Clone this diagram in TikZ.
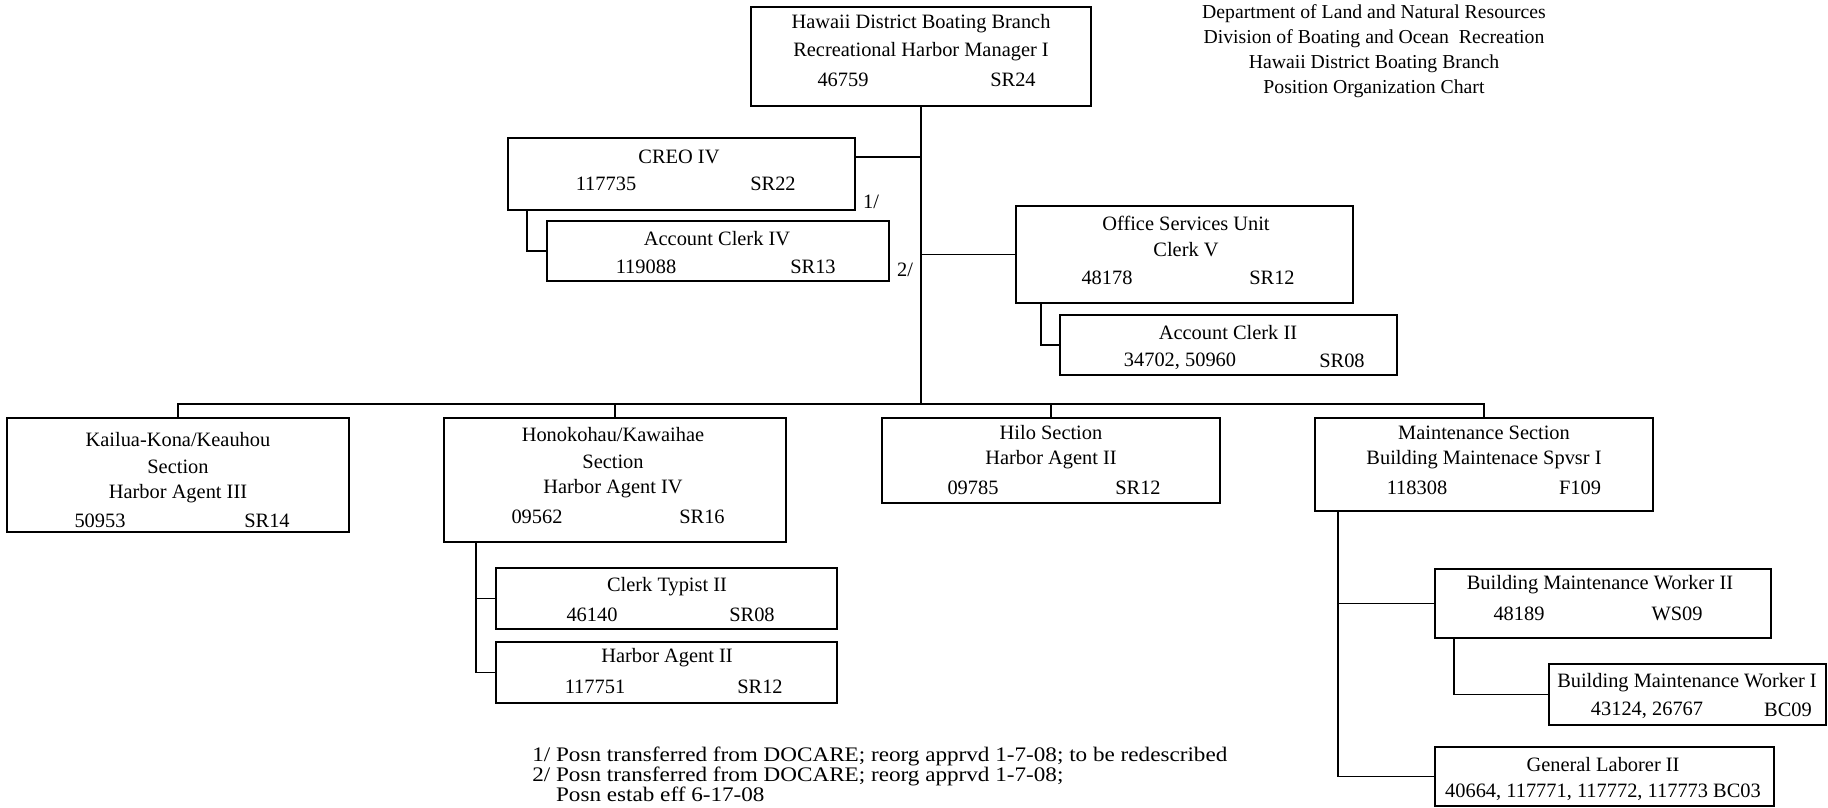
\documentclass[tikz,border=0pt]{standalone}
\usepackage{fontspec}
\setmainfont{Liberation Serif}
\newfontfamily\wideserif[FakeStretch=1.12]{Liberation Serif}
\usetikzlibrary{fit}
\begin{document}
\begin{tikzpicture}[x=0.75pt,y=-0.75pt,
  box/.style={draw, line width=1.4pt, inner sep=0pt},
  lbl/.style={inner sep=0pt, font=\fontsize{15.3}{18}\selectfont},
  conn/.style={line width=1.1pt}]
\useasboundingbox (0,0) rectangle (1828,807);

% boxes
\node[box, fit={(751,7)(1091,106)}] (top) {};
\node[box, fit={(508,138)(855,210)}] (creo) {};
\node[box, fit={(547,221)(889,281)}] (aciv) {};
\node[box, fit={(1016,206)(1353,303)}] (osu) {};
\node[box, fit={(1060,315)(1397,375)}] (acii) {};
\node[box, fit={(7,418)(349,532)}] (kailua) {};
\node[box, fit={(444,418)(786,542)}] (honok) {};
\node[box, fit={(882,418)(1220,503)}] (hilo) {};
\node[box, fit={(1315,418)(1653,511)}] (maint) {};
\node[box, fit={(496,568)(837,629)}] (ct2) {};
\node[box, fit={(496,642)(837,703)}] (ha2) {};
\node[box, fit={(1435,569)(1771,638)}] (bmw2) {};
\node[box, fit={(1549,664)(1826,725)}] (bmw1) {};
\node[box, fit={(1435,747)(1774,806)}] (gl2) {};

% connectors
\coordinate (bus) at (0,404);
\coordinate (yc) at (0,157);
\draw[conn] (top.south) -- (top.south |- bus);
\draw[conn] (kailua.north) -- (kailua.north |- bus) -- (maint.north |- bus) -- (maint.north);
\draw[conn] (honok.north) -- (honok.north |- bus);
\draw[conn] (hilo.north) -- (hilo.north |- bus);
\draw[conn] (creo.east |- yc) -- (top.south |- yc);
\draw[conn] ([xshift=15pt]creo.south west) |- (aciv.west);
\draw[conn] (osu.west) -- (osu.west -| top.south);
\draw[conn] ([xshift=19.5pt]osu.south west) |- (acii.west);
\coordinate (hv) at ([xshift=24.75pt]honok.south west);
\draw[conn] (hv) |- (ha2.west);
\draw[conn] (ct2.west) -- (ct2.west -| hv);
\coordinate (mv) at ([xshift=18pt]maint.south west);
\draw[conn] (mv) |- (gl2.west);
\draw[conn] (bmw2.west) -- (bmw2.west -| mv);
\draw[conn] ([xshift=15pt]bmw2.south west) |- (bmw1.west);

% texts
\node[lbl] (t1) at (921,24) {Hawaii District Boating Branch};
\node[lbl] (t2) at (921,52) {Recreational Harbor Manager I};
\node[lbl] (t3) at (843,80) {46759};
\node[lbl] (t4) at (1013,80) {SR24};

\node[lbl, align=center, font=\fontsize{14.8}{18.75}\selectfont] (title) at (1374,51)
  {Department of Land and Natural Resources\\Division of Boating and Ocean\ \ Recreation\\Hawaii District Boating Branch\\Position Organization Chart};

\node[lbl] (c1) at (679,157) {CREO IV};
\node[lbl] (c2) at (606,184) {117735};
\node[lbl] (c3) at (773,184) {SR22};
\node[lbl] (n1) at (871,202) {1/};

\node[lbl] (a1) at (717,239) {Account Clerk IV};
\node[lbl] (a2) at (646,267) {119088};
\node[lbl] (a3) at (813,267) {SR13};
\node[lbl] (n2) at (905,270) {2/};

\node[lbl] (o1) at (1186,223) {Office Services Unit};
\node[lbl] (o2) at (1186,250) {Clerk V};
\node[lbl] (o3) at (1107,278) {48178};
\node[lbl] (o4) at (1272,278) {SR12};

\node[lbl] (b1) at (1228,333) {Account Clerk II};
\node[lbl] (b2) at (1180,361) {34702, 50960};
\node[lbl] (b3) at (1342,361) {SR08};

\node[lbl] (k1) at (178,440) {Kailua-Kona/Keauhou};
\node[lbl] (k2) at (178,467) {Section};
\node[lbl] (k3) at (178,494) {Harbor Agent III};
\node[lbl] (k4) at (100,521) {50953};
\node[lbl] (k5) at (267,521) {SR14};

\node[lbl] (h1) at (613,435) {Honokohau/Kawaihae};
\node[lbl] (h2) at (613,462) {Section};
\node[lbl] (h3) at (613,489) {Harbor Agent IV};
\node[lbl] (h4) at (537,517) {09562};
\node[lbl] (h5) at (702,517) {SR16};

\node[lbl] (i1) at (1051,433) {Hilo Section};
\node[lbl] (i2) at (1051,460) {Harbor Agent II};
\node[lbl] (i3) at (973,488) {09785};
\node[lbl] (i4) at (1138,488) {SR12};

\node[lbl] (m1) at (1484,433) {Maintenance Section};
\node[lbl] (m2) at (1484,460) {Building Maintenace Spvsr I};
\node[lbl] (m3) at (1417,488) {118308};
\node[lbl] (m4) at (1580,488) {F109};

\node[lbl] (p1) at (667,587) {Clerk Typist II};
\node[lbl] (p2) at (592,615) {46140};
\node[lbl] (p3) at (752,615) {SR08};

\node[lbl] (q1) at (667,658) {Harbor Agent II};
\node[lbl] (q2) at (595,687) {117751};
\node[lbl] (q3) at (760,687) {SR12};

\node[lbl] (w1) at (1600,585) {Building Maintenance Worker II};
\node[lbl] (w2) at (1519,614) {48189};
\node[lbl] (w3) at (1677,614) {WS09};

\node[lbl] (v1) at (1687,683) {Building Maintenance Worker I};
\node[lbl] (v2) at (1647,710) {43124, 26767};
\node[lbl] (v3) at (1788,710) {BC09};

\node[lbl] (g1) at (1603,765) {General Laborer II};
\node[lbl] (g2) at (1603,792) {40664, 117771, 117772, 117773 BC03};

\node[lbl, anchor=west, font=\wideserif\fontsize{15.5}{15}\selectfont] (fn) at (532,777)
  {\renewcommand{\arraystretch}{0.95}\begin{tabular}{@{}l@{\ }l@{}}
   1/ & Posn transferred from DOCARE; reorg apprvd 1-7-08; to be redescribed\\
   2/ & Posn transferred from DOCARE; reorg apprvd 1-7-08;\\
      & Posn estab eff 6-17-08\end{tabular}};
\end{tikzpicture}
\end{document}
